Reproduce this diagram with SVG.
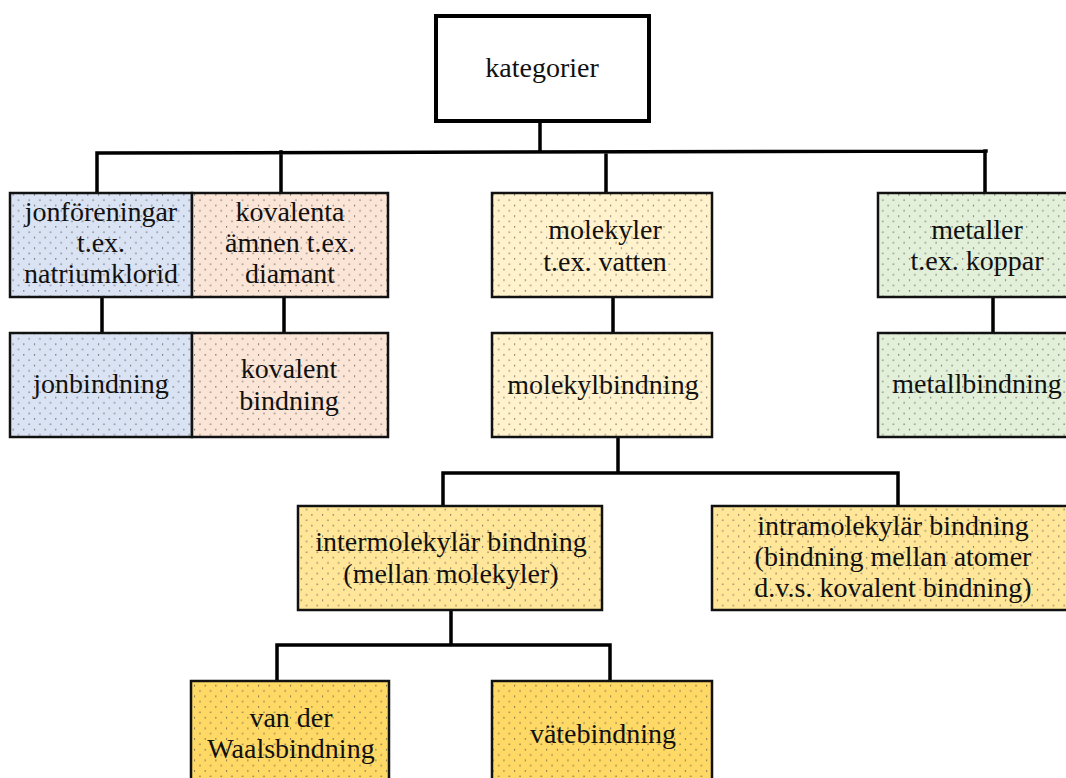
<svg xmlns="http://www.w3.org/2000/svg" width="1066" height="778" viewBox="0 0 1066 778">
<defs>
<pattern id="dots" patternUnits="userSpaceOnUse" x="0" y="0" width="10.67" height="10.67">
<rect x="2" y="2" width="1" height="1.5" fill="#444" fill-opacity="0.85"/>
<rect x="7.33" y="7.33" width="1" height="1.5" fill="#444" fill-opacity="0.85"/>
</pattern>
<style>
.box{stroke:#111;stroke-width:2.5}
.dot{fill:url(#dots);stroke:none}
.blue{fill:#dae3f3}.peach{fill:#fbe5d6}.cream{fill:#fff2cc}.green{fill:#e2f0d9}.gold{fill:#ffe699}.gold2{fill:#ffd966}
.t{font-size:28px;fill:#111;text-anchor:middle}
.conn{stroke:#000;stroke-width:3.5;fill:none;stroke-linecap:square}
</style>
</defs>
<rect width="1066" height="778" fill="#ffffff"/>

<g id="connectors">
<path class="conn" d="M540 122 V152 M97 153 L986 151 M97 153 V192 M281 152 V192 M606 152 V192 M985 151 V192"/>
<path class="conn" d="M102 297 V333 M284 297 V333 M613 297 V333 M993 297 V333"/>
<path class="conn" d="M618 438 V473 M443 473 H898 M443 473 V505 M898 473 V505"/>
<path class="conn" d="M451 610 V645 M277 645 H610 M277 645 V680 M610 645 V680"/>
</g>

<g font-family="'Liberation Serif', 'Times New Roman', Times, serif">
<g id="kategorier">
<rect x="436" y="16" width="213" height="105" fill="#fff" stroke="#000" stroke-width="4"/>
<text class="t" x="542" y="77">kategorier</text>
</g>

<g id="jonforeningar">
<rect class="box blue" x="10" y="193" width="182" height="104"/>
<rect class="dot" x="11" y="194" width="180" height="102"/>
<text class="t" x="101" y="221">jonföreningar</text>
<text class="t" x="101" y="252">t.ex.</text>
<text class="t" x="101" y="283">natriumklorid</text>
</g>

<g id="kovalenta">
<rect class="box peach" x="192" y="193" width="196" height="104"/>
<rect class="dot" x="193" y="194" width="194" height="102"/>
<text class="t" x="290" y="221">kovalenta</text>
<text class="t" x="290" y="252">ämnen t.ex.</text>
<text class="t" x="290" y="283">diamant</text>
</g>

<g id="molekyler">
<rect class="box cream" x="492" y="193" width="220" height="104"/>
<rect class="dot" x="493" y="194" width="218" height="102"/>
<text class="t" x="605" y="239">molekyler</text>
<text class="t" x="605" y="271">t.ex. vatten</text>
</g>

<g id="metaller">
<rect class="box green" x="878" y="193" width="200" height="104"/>
<rect class="dot" x="879" y="194" width="198" height="102"/>
<text class="t" x="977" y="239">metaller</text>
<text class="t" x="977" y="270">t.ex. koppar</text>
</g>

<g id="jonbindning">
<rect class="box blue" x="10" y="333" width="182" height="104"/>
<rect class="dot" x="11" y="334" width="180" height="102"/>
<text class="t" x="101" y="393">jonbindning</text>
</g>

<g id="kovalent-bindning">
<rect class="box peach" x="192" y="333" width="196" height="104"/>
<rect class="dot" x="193" y="334" width="194" height="102"/>
<text class="t" x="289" y="378">kovalent</text>
<text class="t" x="289" y="410">bindning</text>
</g>

<g id="molekylbindning">
<rect class="box cream" x="492" y="333" width="220" height="104"/>
<rect class="dot" x="493" y="334" width="218" height="102"/>
<text class="t" x="603" y="394">molekylbindning</text>
</g>

<g id="metallbindning">
<rect class="box green" x="878" y="333" width="200" height="104"/>
<rect class="dot" x="879" y="334" width="198" height="102"/>
<text class="t" x="977" y="393">metallbindning</text>
</g>

<g id="intermolekylar">
<rect class="box gold" x="298" y="506" width="304" height="104"/>
<rect class="dot" x="299" y="507" width="302" height="102"/>
<text class="t" x="451" y="551">intermolekylär bindning</text>
<text class="t" x="451" y="583">(mellan molekyler)</text>
</g>

<g id="intramolekylar">
<rect class="box gold" x="712" y="506" width="366" height="104"/>
<rect class="dot" x="713" y="507" width="364" height="102"/>
<text class="t" x="893" y="535">intramolekylär bindning</text>
<text class="t" x="893" y="566">(bindning mellan atomer</text>
<text class="t" x="893" y="597">d.v.s. kovalent bindning)</text>
</g>

<g id="vanderwaals">
<rect class="box gold2" x="191" y="681" width="198" height="110"/>
<rect class="dot" x="192" y="682" width="196" height="108"/>
<text class="t" x="291" y="727">van der</text>
<text class="t" x="291" y="758">Waalsbindning</text>
</g>

<g id="vatebindning">
<rect class="box gold2" x="492" y="681" width="220" height="110"/>
<rect class="dot" x="493" y="682" width="218" height="108"/>
<text class="t" x="603" y="743">vätebindning</text>
</g>
</g>
</svg>
